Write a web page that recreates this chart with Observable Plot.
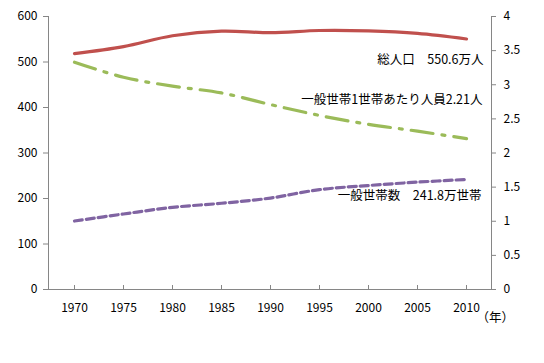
<!DOCTYPE html>
<html><head><meta charset="utf-8">
<script src="https://cdn.jsdelivr.net/npm/d3@7"></script>
<script src="https://cdn.jsdelivr.net/npm/@observablehq/plot@0.6"></script>
<style>
body{margin:0;background:#fff;}
</style>
</head><body>
<div id="chart"></div>
<script>
const years = [1970,1975,1980,1985,1990,1995,2000,2005,2010];
const totalPop = [518.4,533.8,557.6,567.9,564.4,569.2,568.3,562.8,550.6];      // 万人 (left axis)
const households = [150.5,166.0,180.5,189.5,201.0,219.5,228.5,236.0,241.8];   // 万世帯 (left axis)
const perHousehold = [3.33,3.11,2.98,2.88,2.71,2.55,2.42,2.32,2.21];           // 人 (right axis)
const leftTicks = [0,100,200,300,400,500,600];
const rightTicks = [0,0.5,1,1.5,2,2.5,3,3.5,4];
const labels = ["総人口　550.6万人","一般世帯1世帯あたり人員2.21人","一般世帯数　241.8万世帯"];
const unitLabel = "（年）";

const ratio = 600/4;
const pop = years.map((y,i)=>({year:y, v:totalPop[i]}));
const hh = years.map((y,i)=>({year:y, v:households[i]}));
const ph = years.map((y,i)=>({year:y, v:perHousehold[i]*ratio}));
const last = years.length-1;

const font = "'Noto Sans CJK JP', sans-serif";
const chart = Plot.plot({
  width: 544, height: 363,
  marginLeft: 48, marginRight: 53, marginTop: 16, marginBottom: 74,
  style: {fontFamily: font, fontSize: "11px", color: "#000"},
  x: {type: "point", domain: years, padding: 0.5},
  y: {domain: [0,600]},
  marks: [
    Plot.frame({anchor: "left", stroke: "#868686"}),
    Plot.frame({anchor: "right", stroke: "#868686"}),
    Plot.ruleY([0], {stroke: "#868686"}),
    Plot.axisY({anchor: "left", ticks: leftTicks, tickSize: 5, tickPadding: 6, label: null, stroke: "#868686", fontSize: 12}),
    Plot.axisY({anchor: "right", ticks: rightTicks.map(d=>d*ratio), tickFormat: d => String(d/ratio), tickSize: 4, tickPadding: 8, label: null, stroke: "#868686", fontSize: 12}),
    Plot.axisX({ticks: years, tickFormat: d => String(d), tickSize: 0, tickPadding: 14, label: null, fontSize: 12}),
    Plot.ruleX(years, {x: d=>d, y1: 0, y2: 0, insetTop: -4, stroke: "#868686"}),
    Plot.line(hh, {x: "year", y: "v", stroke: "#8064A2", strokeWidth: 3.2, strokeDasharray: "8,4", curve: "catmull-rom"}),
    Plot.line(ph, {x: "year", y: "v", stroke: "#9BBB59", strokeWidth: 3.2, strokeDasharray: "22,9,3,9", curve: "catmull-rom"}),
    Plot.line(pop, {x: "year", y: "v", stroke: "#C0504D", strokeWidth: 3.2, curve: "catmull-rom"}),
    Plot.text([pop[last]], {x: "year", y: "v", text: () => labels[0], textAnchor: "end", dx: 17, dy: 21, fontSize: 12.5, fill: "#000"}),
    Plot.text([ph[last]], {x: "year", y: "v", text: () => labels[1], textAnchor: "end", dx: 16, dy: -39, fontSize: 12.5, fill: "#000"}),
    Plot.text([hh[last]], {x: "year", y: "v", text: () => labels[2], textAnchor: "end", dx: 15, dy: 17, fontSize: 12.5, fill: "#000"}),
    Plot.text([unitLabel], {frameAnchor: "bottom-right", text: d=>d, textAnchor: "start", dx: -15, dy: 32, fontSize: 12.5, fill: "#000"})
  ]
});
document.getElementById("chart").appendChild(chart);
</script>
</body></html>
